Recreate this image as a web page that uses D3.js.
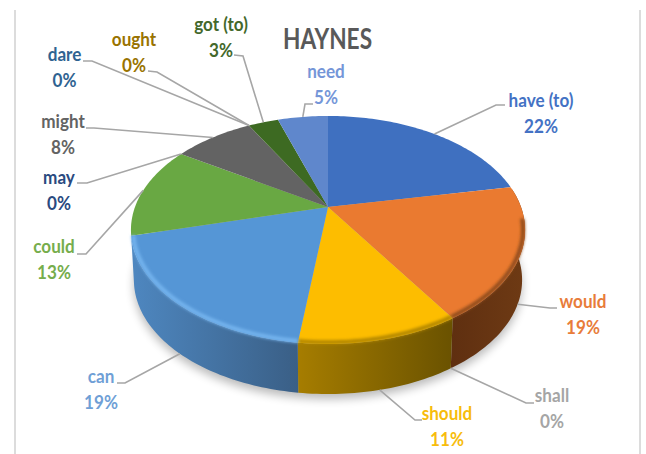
<!DOCTYPE html>
<html>
<head>
<meta charset="utf-8">
<style>
  html, body { margin: 0; padding: 0; background: #fff; }
  svg { display: block; }
  text { font-family: Lato, "Open Sans", sans-serif; font-weight: 700; }
</style>
<script src="https://cdn.jsdelivr.net/npm/d3@7/dist/d3.min.js"></script>
</head>
<body>
<svg id="chart" width="646" height="454"></svg>
<script>
// Share of each modal verb, in percent, clockwise from twelve o'clock
const verbs  = ["have (to)", "would", "shall", "should", "can", "could", "may", "might", "dare", "ought", "got (to)", "need"];
const shares = [22, 19, 0, 11, 19, 13, 0, 8, 0, 0, 3, 5];
const faceColors = ["#3f70c0", "#ea7a30", "#a5a5a5", "#fdbd00", "#5596d6", "#69a843", "#264478", "#636363", "#255e91", "#997300", "#3d6a22", "#5f87cc"];
const textColors = ["#4472c4", "#e87c3a", "#a5a5a5", "#f7bc0c", "#6f9fd6", "#76ad4c", "#2a4a80", "#636363", "#2f6391", "#997300", "#43682b", "#7596d8"];
const chartTitle = "HAYNES";

// Wall colours of the slices that face the viewer, left-to-right in screen x
const wallTones = { "would": ["#5f2f10", "#6e3a14"], "should": ["#a67d00", "#6a5200"], "can": ["#4e87c0", "#3a5f86"] };
const rimTones  = { "would": "#8f4c1c", "should": "#b08500", "can": "#74b4ee" };

// Label placement: text centre, first baseline, leader elbow, leader end
const labelLayout = [
  { cx: 541, y: 107, elbow: [496, 105], end: [505, 105] },
  { cx: 583, y: 308, elbow: [550, 308], end: [557, 308] },
  { cx: 552, y: 402, elbow: [526, 403], end: [534, 403] },
  { cx: 447, y: 420, elbow: [415, 420], end: [422, 420] },
  { cx: 101, y: 383, elbow: [125, 383], end: [117, 383] },
  { cx: 54,  y: 253, elbow: [86, 254],  end: [77, 254] },
  { cx: 59,  y: 184, elbow: [87, 183],  end: [77, 183] },
  { cx: 63,  y: 128, elbow: [94, 128],  end: [86, 128] },
  { cx: 64.5, y: 61, elbow: [92, 61],   end: [83, 61] },
  { cx: 134, y: 46,  elbow: [157, 72],  end: [148, 71] },
  { cx: 221, y: 31,  elbow: [243, 56],  end: [234, 55] },
  { cx: 326, y: 78,  elbow: [305, 104], end: [313, 104] }
];

const svg = d3.select("#chart");
const defs = svg.append("defs");
defs.append("filter").attr("id", "softShadow").attr("x", "-20%").attr("y", "-20%").attr("width", "140%").attr("height", "140%")
  .append("feGaussianBlur").attr("stdDeviation", 5);
defs.append("filter").attr("id", "softRim").attr("x", "-20%").attr("y", "-20%").attr("width", "140%").attr("height", "140%")
  .append("feGaussianBlur").attr("stdDeviation", 1.6);

// Page frame rules
[15, 640].forEach(x => {
  svg.append("line").attr("x1", x).attr("x2", x).attr("y1", 10).attr("y2", 454)
    .attr("stroke", "#dcdcdc").attr("stroke-width", 2);
});

// Perspective view of the disc: the far edge shrinks, the hub sits above the ellipse centre
const hub = { x: 328, y: 207 }, spreadX = 193, spreadY = 109.4, tilt = 0.2017;
const wallDrop = 50, lowerScale = 0.985;

function project(angle, radius = 1, lower = false) {
  const u = radius * Math.sin(angle), v = radius * Math.cos(angle), w = 1 + tilt * v;
  const s = lower ? lowerScale : 1;
  return [hub.x + s * spreadX * u / w, hub.y - spreadY * v / w + (lower ? wallDrop : 0)];
}
function arcPoints(a0, a1, radius = 1, lower = false) {
  const steps = Math.max(1, Math.ceil(Math.abs(a1 - a0) / 0.02));
  return d3.range(steps + 1).map(i => project(a0 + (a1 - a0) * i / steps, radius, lower));
}

const slices = d3.pie().sort(null).value(d => d)(shares);
const outline = d3.line();
const TAU = 2 * Math.PI;

// Drop shadow under the base
svg.append("path")
  .attr("d", outline(arcPoints(0, TAU, 1, true).map(p => [p[0], p[1] + 5])) + "Z")
  .attr("fill", "#000").attr("opacity", 0.27).attr("filter", "url(#softShadow)");

// Outer wall of the slices that turn toward the viewer
const wallFrom = 80 * Math.PI / 180, wallTo = 262 * Math.PI / 180;
slices.forEach((s, i) => {
  const tones = wallTones[verbs[i]];
  if (!tones) return;
  const a0 = Math.max(s.startAngle, wallFrom), a1 = Math.min(s.endAngle, wallTo);
  const upper = arcPoints(a0, a1), lower = arcPoints(a0, a1, 1, true);
  const band = upper.concat(lower.slice().reverse());
  const xs = d3.extent(band, p => p[0]);
  const id = "wall" + i;
  const g = defs.append("linearGradient").attr("id", id).attr("gradientUnits", "userSpaceOnUse")
    .attr("x1", xs[0]).attr("x2", xs[1]).attr("y1", 0).attr("y2", 0);
  g.append("stop").attr("offset", 0).attr("stop-color", tones[0]);
  g.append("stop").attr("offset", 1).attr("stop-color", tones[1]);
  svg.append("path").attr("d", outline(band) + "Z").attr("fill", `url(#${id})`);
});

// Top face
svg.selectAll("path.face")
  .data(slices)
  .join("path")
  .attr("class", "face")
  .attr("fill", (d, i) => faceColors[i])
  .attr("d", d => d.endAngle > d.startAngle
    ? outline([[hub.x, hub.y]].concat(arcPoints(d.startAngle, d.endAngle))) + "Z" : null);

// Soft bevel where the face rolls over into the wall
slices.forEach((s, i) => {
  const rim = rimTones[verbs[i]];
  if (!rim) return;
  const a0 = Math.max(s.startAngle, 96 * Math.PI / 180), a1 = Math.min(s.endAngle, wallTo);
  svg.append("path").attr("d", outline(arcPoints(a0, a1, 0.99)))
    .attr("fill", "none").attr("stroke", rim).attr("stroke-width", 4)
    .attr("filter", "url(#softRim)");
});

// Title
svg.append("text").attr("transform", "translate(327.5,49) scale(0.81,1)")
  .attr("text-anchor", "middle").attr("font-size", 28).attr("fill", "#595959").text(chartTitle);

// Leaders run from the rim at each slice's mid-angle; front slices attach at the base
svg.selectAll("path.leader")
  .data(slices)
  .join("path")
  .attr("class", "leader")
  .attr("fill", "none").attr("stroke", "#a6a6a6").attr("stroke-width", 1.6)
  .attr("d", (d, i) => {
    const mid = (d.startAngle + d.endAngle) / 2;
    const front = mid > wallFrom && mid < wallTo;
    const spot = labelLayout[i];
    return outline([project(mid, 1, front), spot.elbow, spot.end]);
  });

// Labels: verb on the first line, share on the second
const labels = svg.selectAll("g.label")
  .data(verbs)
  .join("g")
  .attr("class", "label")
  .attr("fill", (d, i) => textColors[i])
  .attr("font-size", 19)
  .attr("text-anchor", "middle");
labels.append("text")
  .attr("transform", (d, i) => `translate(${labelLayout[i].cx},${labelLayout[i].y}) scale(0.9,1)`)
  .text(d => d);
labels.append("text")
  .attr("transform", (d, i) => `translate(${labelLayout[i].cx},${labelLayout[i].y + 25.5}) scale(0.9,1)`)
  .text((d, i) => shares[i] + "%");
</script>
</body>
</html>
